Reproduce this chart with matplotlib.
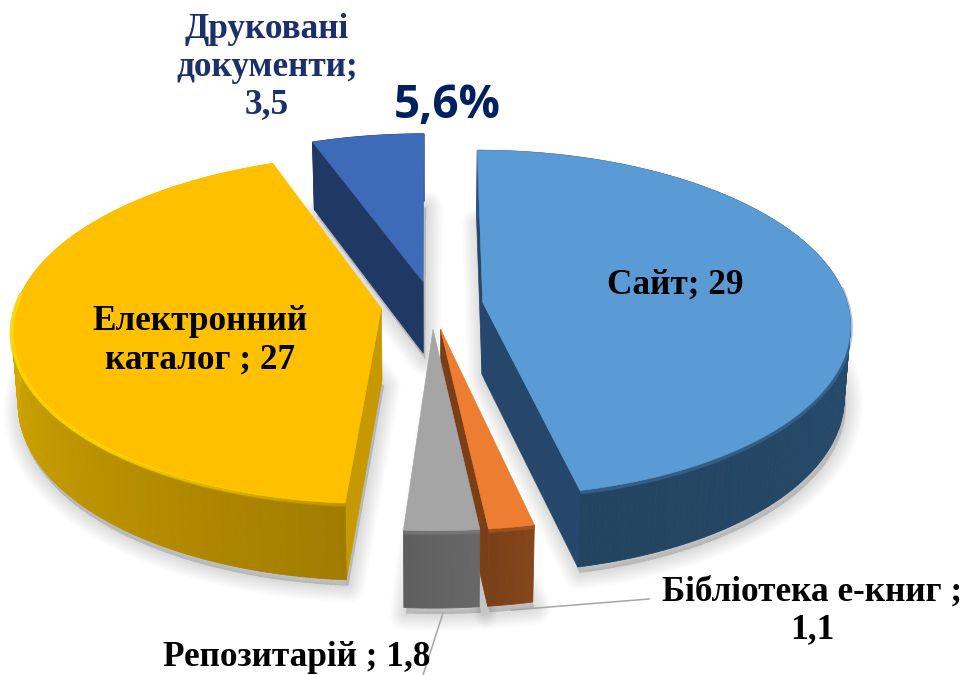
# Exploded 3D pie chart, the pie is projected by hand since matplotlib has no 3D pie
import numpy as np
import matplotlib
matplotlib.use('Agg')
import matplotlib.pyplot as plt
from matplotlib.colors import to_rgb

# Chart data
categories = ['Сайт', 'Бібліотека е-книг', 'Репозитарій', 'Електронний каталог', 'Друковані документи']
values = [29, 1.1, 1.8, 27, 3.5]
labels = ['Сайт; 29', 'Бібліотека е-книг ;\n1,1', 'Репозитарій ; 1,8', 'Електронний\nкаталог ; 27', 'Друковані\nдокументи;\n3,5']
highlight_text = '5,6%'

# Colours per slice: top face, side at first angle, side at last angle, radial face
top_colors = ['#5B9BD5', '#ED7D31', '#A5A5A5', '#FFC000', '#3E6BB8']
side_start = ['#2B5580', '#84461B', '#676767', '#A27C00', '#1F3864']
side_end = ['#234460', '#7A4019', '#5F5F5F', '#FFD000', '#1F3864']
face_colors = ['#25476B', '#7B3F17', '#5F5F5F', '#C79900', '#1F3864']
text_colors = ['black', 'black', 'black', 'black', '#1A2F6B']

# Where the pie sits in pixels
CX, CY = 432, 305
RX, RY = 365, 171
PERSP = 0.12
EXPLODE = 0.14
DEPTH = 72

# Drawing order goes back to front
draw_order = [4, 3, 0, 1, 2]


def project(X, Y):
    denom = 1 - PERSP * Y
    return CX + RX * X / denom, CY + RY * Y / denom


def lower(X, Y):
    # The same point on the underside of the pie
    x, y = project(X, Y)
    return CX + (x - CX) * 0.985, y + DEPTH / (1 - 0.06 * Y)


def mix(c1, c2, f):
    a, b = np.array(to_rgb(c1)), np.array(to_rgb(c2))
    return tuple(a + (b - a) * f)


fig = plt.figure(figsize=(9.65, 6.75), dpi=100)
ax = fig.add_axes([0, 0, 1, 1])
ax.set_xlim(0, 965)
ax.set_ylim(675, 0)
ax.axis('off')

total = sum(values)
edges = np.concatenate([[0], np.cumsum(values)]) / total * 2 * np.pi

slices = []
for i in range(len(values)):
    t1, t2 = edges[i], edges[i + 1]
    mid = (t1 + t2) / 2
    ox, oy = EXPLODE * np.sin(mid), -EXPLODE * np.cos(mid)
    t = np.linspace(t1, t2, max(int((t2 - t1) * 60), 4))
    X = ox + np.sin(t)
    Y = oy - np.cos(t)
    slices.append((t1, t2, ox, oy, t, X, Y))

# Soft shadows of the undersides go below everything
for (t1, t2, ox, oy, t, X, Y) in slices:
    bx, by = lower(np.r_[ox, X], np.r_[oy, Y])
    for lw in np.arange(24, 1, -2):
        ax.fill(bx + 2, by + 6, facecolor='#000000', edgecolor='#000000', alpha=0.012, lw=lw, joinstyle='round', zorder=1)

z = 2
for i in draw_order:
    t1, t2, ox, oy, t, X, Y = slices[i]
    tx, ty = project(X, Y)
    bx, by = lower(X, Y)
    ax_, ay_ = project(ox, oy)
    bax, bay = lower(ox, oy)

    # Radial faces, only the ones looking at the viewer
    if np.sin(t1) <= 0:
        ax.fill([ax_, tx[0], bx[0], bax], [ay_, ty[0], by[0], bay], color=face_colors[i], lw=0.5, zorder=z)
    if np.sin(t2) > 1e-6:
        ax.fill([ax_, tx[-1], bx[-1], bax], [ay_, ty[-1], by[-1], bay], color=face_colors[i], lw=0.5, zorder=z)

    # Outer wall, small strips so the shade can change along the angle
    for k in range(len(t) - 1):
        f = k / max(len(t) - 2, 1)
        col = mix(side_start[i], side_end[i], f)
        ax.fill([tx[k], tx[k + 1], bx[k + 1], bx[k]], [ty[k], ty[k + 1], by[k + 1], by[k]], color=col, lw=0.6, zorder=z)

    # Top face
    ax.fill(np.r_[ax_, tx], np.r_[ay_, ty], color=top_colors[i], lw=0.4, zorder=z + 0.2)

    # Soft bevel where the top meets the wall, only on the front part
    front = np.cos(t) < 0.1
    edge = mix(top_colors[i], side_start[i], 0.45)
    ax.plot(tx[front], ty[front] + 1.5, color=edge, lw=3.5, alpha=0.45, zorder=z + 0.1, solid_capstyle='butt')
    if i == 3:
        # The yellow slice has a bright rim that fades out towards its right corner
        idx = np.where(front)[0]
        for k in idx[:-1]:
            a = min(0.85, 0.1 + 0.75 * (k - idx[0]) / (0.4 * len(idx)))
            ax.plot(tx[k:k + 2], ty[k:k + 2] + 1, color='#FFDD00', lw=2.5, alpha=a, zorder=z + 0.3, solid_capstyle='butt')
    z += 1

# Leader lines
ax.plot([512, 649], [610, 599], color='#A6A6A6', lw=1.1, zorder=20)
ax.plot([443, 423], [613, 675], color='#A6A6A6', lw=1.1, zorder=20)

# Data labels, centre of the text block in pixels
label_pos = [(675, 285), (812, 611), (297, 657), (200, 341), (267, 67)]
for i, txt in enumerate(labels):
    ax.text(label_pos[i][0], label_pos[i][1], txt, family='Liberation Serif', weight='bold', fontsize=25.4,
            color=text_colors[i], ha='center', va='center', linespacing=1.2, zorder=30)

ax.text(447, 105, highlight_text, family='Open Sans', weight='bold', fontsize=33, color='#002060', ha='center', va='center', zorder=30)

fig.savefig('out.png', dpi=100, facecolor='white')
